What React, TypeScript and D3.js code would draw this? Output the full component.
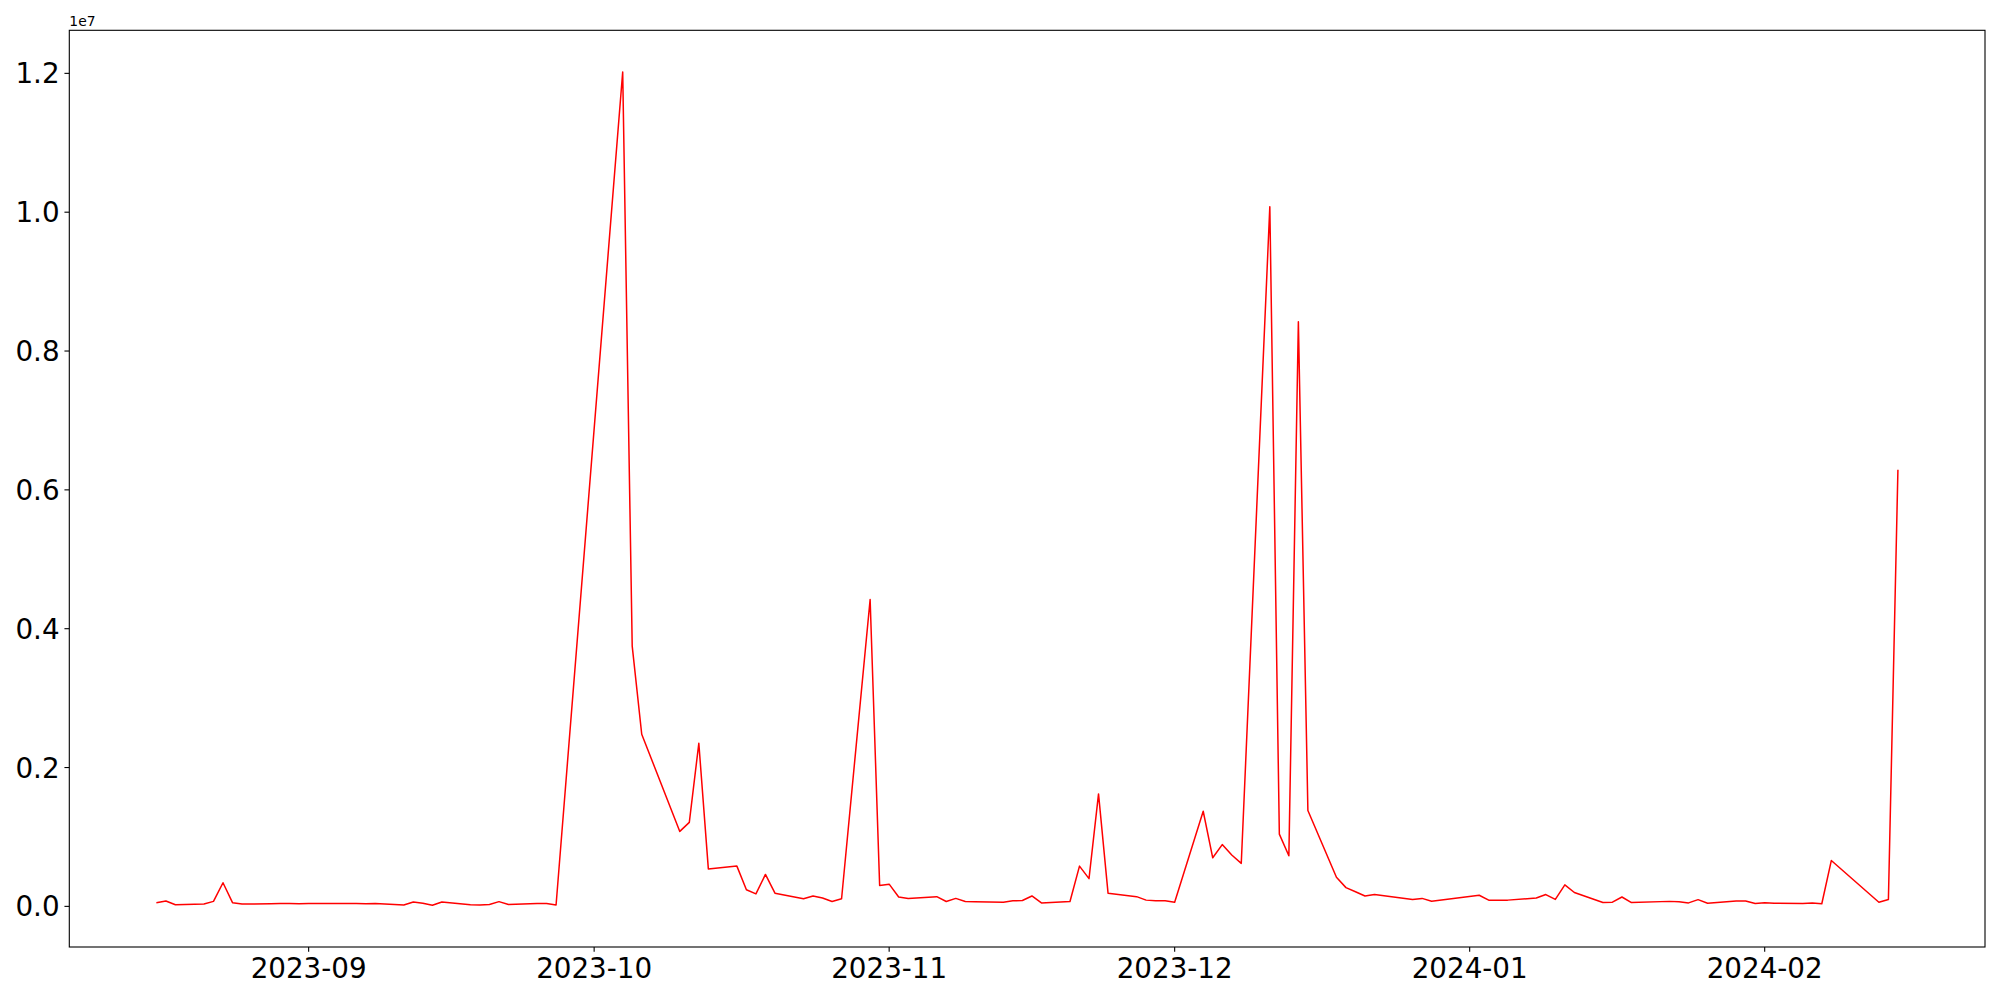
import React from "react";
import * as d3 from "d3";

const dates: string[] = [
  "2023-08-16","2023-08-17","2023-08-18","2023-08-21","2023-08-22","2023-08-23","2023-08-24","2023-08-25",
  "2023-08-28","2023-08-29","2023-08-30","2023-08-31","2023-09-01","2023-09-04","2023-09-05","2023-09-06",
  "2023-09-07","2023-09-08","2023-09-11","2023-09-12","2023-09-13","2023-09-14","2023-09-15","2023-09-18",
  "2023-09-19","2023-09-20","2023-09-21","2023-09-22","2023-09-25","2023-09-26","2023-09-27",
  "2023-10-04","2023-10-05","2023-10-06","2023-10-10","2023-10-11","2023-10-12","2023-10-13",
  "2023-10-16","2023-10-17","2023-10-18","2023-10-19","2023-10-20","2023-10-23","2023-10-24","2023-10-25",
  "2023-10-26","2023-10-27","2023-10-30","2023-10-31","2023-11-01","2023-11-02","2023-11-03",
  "2023-11-06","2023-11-07","2023-11-08","2023-11-09","2023-11-10","2023-11-13","2023-11-14","2023-11-15",
  "2023-11-16","2023-11-17","2023-11-20","2023-11-21","2023-11-22","2023-11-23","2023-11-24",
  "2023-11-27","2023-11-28","2023-11-29","2023-11-30","2023-12-01","2023-12-04","2023-12-05","2023-12-06",
  "2023-12-07","2023-12-08","2023-12-11","2023-12-12","2023-12-13","2023-12-14","2023-12-15",
  "2023-12-18","2023-12-19","2023-12-20","2023-12-21","2023-12-22","2023-12-26","2023-12-27","2023-12-28",
  "2024-01-02","2024-01-03","2024-01-04","2024-01-05","2024-01-08","2024-01-09","2024-01-10","2024-01-11",
  "2024-01-12","2024-01-15","2024-01-16","2024-01-17","2024-01-18","2024-01-22","2024-01-23","2024-01-24",
  "2024-01-25","2024-01-26","2024-01-29","2024-01-30","2024-01-31","2024-02-01","2024-02-02","2024-02-05",
  "2024-02-06","2024-02-07","2024-02-08","2024-02-13","2024-02-14","2024-02-15",
];

const values: number[] = [
  53000, 78000, 24000, 34000, 72000, 340000, 53000, 34000,
  38000, 40000, 42000, 36000, 42000, 40000, 42000, 42000,
  36000, 42000, 20000, 63000, 45000, 15000, 63000, 24000,
  20000, 26000, 68000, 26000, 43000, 40000, 20000,
  12020000, 3750000, 2480000, 1080000, 1210000, 2350000, 540000,
  580000, 240000, 180000, 460000, 190000, 110000, 150000, 120000,
  70000, 110000, 4420000, 300000, 320000, 135000, 115000,
  140000, 70000, 115000, 70000, 68000, 60000, 80000, 85000,
  150000, 50000, 70000, 580000, 400000, 1620000, 190000,
  140000, 90000, 80000, 80000, 60000, 1370000, 700000, 890000,
  740000, 620000, 10080000, 1040000, 730000, 8420000, 1380000,
  420000, 270000, 210000, 150000, 170000, 100000, 115000, 75000,
  160000, 90000, 90000, 90000, 120000, 170000, 100000, 310000,
  200000, 55000, 60000, 135000, 55000, 72000, 65000, 50000,
  97000, 45000, 78000, 78000, 40000, 53000, 45000, 42000,
  50000, 38000, 660000, 60000, 100000, 6290000,
];

const yTickValues: number[] = [0, 2e6, 4e6, 6e6, 8e6, 10e6, 12e6];
const yTickLabels: string[] = ["0.0", "0.2", "0.4", "0.6", "0.8", "1.0", "1.2"];

export default function App() {
  const W = 2000, H = 1000;
  const left = 69.3, right = 1985, top = 30.3, bottom = 947;
  const parse = d3.utcParse("%Y-%m-%d");
  const pts = dates.map((d, i) => ({ t: parse(d) as Date, v: values[i] }));
  const [t0, t1] = d3.extent(pts, (p) => p.t.getTime()) as [number, number];
  const tspan = t1 - t0;
  const [v0, v1] = d3.extent(values) as [number, number];
  const vspan = v1 - v0;
  const x = d3.scaleUtc()
    .domain([new Date(t0 - 0.05 * tspan), new Date(t1 + 0.05 * tspan)])
    .range([left, right]);
  const y = d3.scaleLinear()
    .domain([v0 - 0.05 * vspan, v1 + 0.05 * vspan])
    .range([bottom, top]);
  const line = d3.line<{ t: Date; v: number }>()
    .x((p) => x(p.t))
    .y((p) => y(p.v));
  const xTicks = d3.utcMonth.range(x.domain()[0], x.domain()[1]).filter((d) => d >= x.domain()[0]);
  const fmt = d3.utcFormat("%Y-%m");
  const font = "'DejaVu Sans', sans-serif";
  const tickLen = 4.86;
  const fs = 27.78;
  return (
    <svg width={W} height={H} style={{ position: "absolute", left: 0, top: 0, background: "#fff", fontFamily: font }}>
      <rect x={0} y={0} width={W} height={H} fill="#fff" />
      <path d={line(pts) || ""} fill="none" stroke="#ff0000" strokeWidth={1.5} strokeLinejoin="round" />
      <rect x={left} y={top} width={right - left} height={bottom - top} fill="none" stroke="#000" strokeWidth={1.1} />
      {yTickValues.map((v, i) => (
        <g key={"y" + i}>
          <line x1={left - tickLen} x2={left} y1={y(v)} y2={y(v)} stroke="#000" strokeWidth={1.1} />
          <text x={left - tickLen - 4.86} y={y(v) + 10.1} textAnchor="end" fontSize={fs} fill="#000">{yTickLabels[i]}</text>
        </g>
      ))}
      {xTicks.map((d, i) => (
        <g key={"x" + i}>
          <line x1={x(d)} x2={x(d)} y1={bottom} y2={bottom + tickLen} stroke="#000" strokeWidth={1.1} />
          <text x={x(d)} y={978} textAnchor="middle" fontSize={fs} fill="#000">{fmt(d)}</text>
        </g>
      ))}
      <text x={left} y={25.5} fontSize={13.9} fill="#000">1e7</text>
    </svg>
  );
}
